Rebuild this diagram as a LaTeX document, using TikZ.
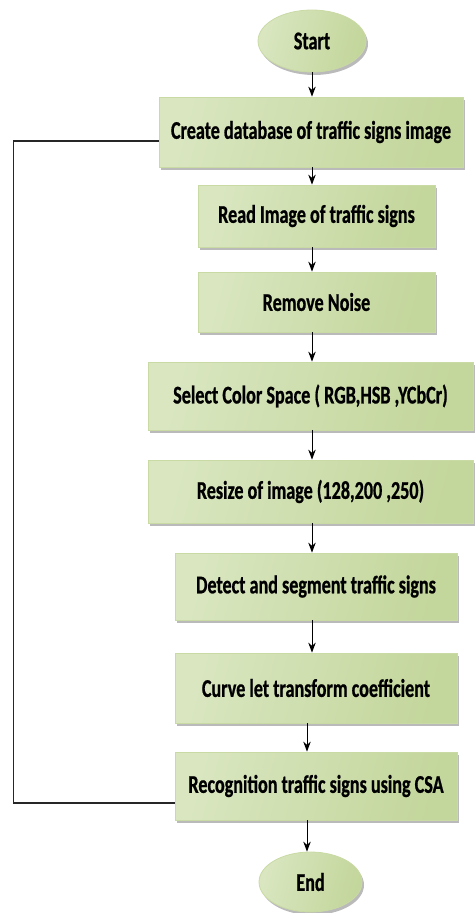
\documentclass[tikz,border=0pt]{standalone}
\usepackage{fontspec}
\setmainfont[FakeStretch=0.71, BoldFeatures={FakeBold=0.8}]{Carlito}
\usetikzlibrary{shapes.geometric,shadows,arrows.meta}
\definecolor{boxlight}{HTML}{EEF3E4}
\definecolor{boxmid}{HTML}{D9E6C0}
\definecolor{boxdark}{HTML}{C3D69B}
\definecolor{boxedge}{HTML}{C9DAA5}
\tikzset{
  procbox/.style={draw=boxedge, line width=0.8pt, rectangle,
    left color=boxmid, middle color=boxlight, right color=boxdark, shading angle=75,
    drop shadow={shadow xshift=2pt, shadow yshift=-3pt, opacity=0.45, fill=black!60},
    font=\fontsize{25.5}{29}\selectfont\bfseries, text=black, inner sep=0pt},
  term/.style={procbox, ellipse},
  arr/.style={-{Stealth[length=10pt,width=7.5pt]}, line width=1pt, black},
  fb/.style={line width=1.2pt, black!85}
}
\begin{document}
\begin{tikzpicture}[x=1pt,y=-1pt]
\useasboundingbox (0,0) rectangle (475,913);
\node[term, minimum width=108pt, minimum height=62pt] (s) at (312,41) {Start};
\node[procbox, minimum width=304pt, minimum height=70pt] (b1) at (311,132) {Create database of traffic signs image};
\node[procbox, minimum width=237pt, minimum height=62pt] (b2) at (316.5,216) {Read Image of traffic signs};
\node[procbox, minimum width=237pt, minimum height=60pt] (b3) at (316.5,302) {Remove Noise};
\node[procbox, minimum width=325pt, minimum height=68pt] (b4) at (310.5,396) {Select Color Space ( RGB,HSB ,YCbCr)};
\node[procbox, minimum width=325pt, minimum height=63pt] (b5) at (310.5,491.5) {Resize of image (128,200 ,250)};
\node[procbox, minimum width=282pt, minimum height=67pt] (b6) at (316,586.5) {Detect and segment traffic signs};
\node[procbox, minimum width=282pt, minimum height=70pt] (b7) at (316,688) {Curve let transform coefficient};
\node[procbox, minimum width=282pt, minimum height=68pt] (b8) at (316,786) {Recognition traffic signs using CSA};
\node[term, minimum width=103pt, minimum height=60pt] (e) at (310.5,882) {End};
\coordinate (ax) at (312,0);
\coordinate (ay) at (307,0);
\draw[arr] (ax |- s.south) -- (ax |- b1.north);
\draw[arr] (ax |- b1.south) -- (ax |- b2.north);
\draw[arr] (ax |- b2.south) -- (ax |- b3.north);
\draw[arr] (ax |- b3.south) -- (ax |- b4.north);
\draw[arr] (ax |- b4.south) -- (ax |- b5.north);
\draw[arr] (ax |- b5.south) -- (ax |- b6.north);
\draw[arr] (ax |- b6.south) -- (ax |- b7.north);
\draw[arr] (ay |- b7.south) -- (ay |- b8.north);
\draw[arr] (ay |- b8.south) -- (ay |- e.north);
\draw[fb] ([yshift=-17pt]b8.west) -- ++(-161,0) |- ([yshift=-9pt]b1.west);
\end{tikzpicture}
\end{document}
